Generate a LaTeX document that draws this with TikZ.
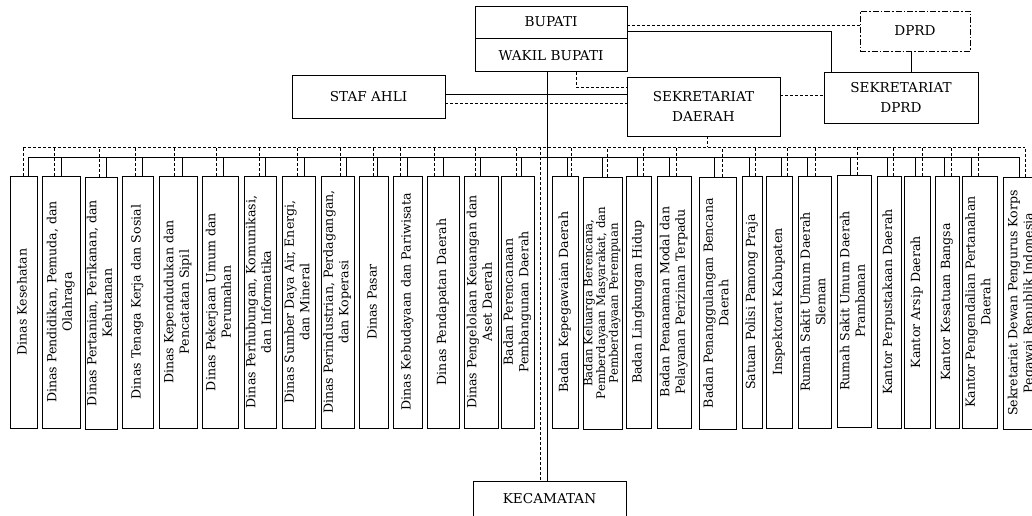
\documentclass[tikz,border=0pt]{standalone}
\usepackage{fontspec}
\setmainfont{DejaVu Serif}
\usepackage{graphicx}
\usetikzlibrary{positioning}
\newcommand{\vt}[1]{\rotatebox{90}{\begin{tabular}{@{}c@{}}#1\end{tabular}}}

\begin{document}
\begin{tikzpicture}[
  x=1pt, y=-1pt,
  box/.style={draw, line width=0.9pt, inner sep=1pt, align=center, font=\fontsize{13.6}{20}\selectfont},
  unit/.style={draw, line width=0.9pt, inner sep=0pt, minimum height=252pt, font=\fontsize{12.6}{15.5}\selectfont},
  dsh/.style={dash pattern=on 3pt off 2pt},
  dd/.style={line width=0.8pt, dash pattern=on 6pt off 2pt on 1.5pt off 2pt}
  ]
  \useasboundingbox (0,0) rectangle (1032,515);
  % pimpinan
  \node[box, minimum width=152pt, minimum height=32pt] (bupati) at (551,22) {BUPATI};
  \node[box, minimum width=152pt, minimum height=33pt, below=0pt of bupati] (wakil) {WAKIL BUPATI};
  \node[box, minimum width=153pt, minimum height=43pt] (staf) at (368.5,96.5) {STAF AHLI};
  \node[box, minimum width=153pt, minimum height=59pt] (sekda) at (703.5,106.5) {SEKRETARIAT\\DAERAH};
  \node[box, dd, minimum width=110pt, minimum height=40pt] (dprd) at (915,31) {DPRD};
  \node[box, minimum width=154pt, minimum height=51pt] (setdprd) at (901,97.5) {SEKRETARIAT\\DPRD};
  \node[box, minimum width=153pt, minimum height=36pt] (kec) at (549.5,499) {KECAMATAN};

  \draw ([yshift=2.5pt]staf.east) -- ([yshift=2.5pt]staf.east -| sekda.west);
  \draw[dsh] ([yshift=-6.5pt]staf.east) -- ([yshift=-6.5pt]staf.east -| sekda.west);
  \draw[dsh] ([xshift=25pt]wakil.south) |- ([yshift=19.5pt]sekda.west);
  \draw[dsh] ([yshift=-3pt]bupati.east) -- ([yshift=-3pt]bupati.east -| dprd.west);
  \draw ([yshift=-9pt]bupati.east) -| ([xshift=-70pt]setdprd.north);
  \draw ([xshift=-4pt]dprd.south) -- ([xshift=-4pt]dprd.south |- setdprd.north);
  \draw[dsh] ([yshift=11.5pt]sekda.east) -- ([yshift=11.5pt]sekda.east -| setdprd.west);

  % garis komando
  \coordinate (sL) at (28,157);  \coordinate (sR) at (1019,157);
  \coordinate (dL) at (23,147);  \coordinate (dR) at (1025,147);
  \draw (sL) -- (sR);
  \draw[dsh] (dL) -- (dR);
  \draw[dsh] ([xshift=3.5pt]sekda.south) -- ([xshift=3.5pt]sekda.south |- dL);
  \draw ([xshift=-4pt]wakil.south) -- ([xshift=-4pt]wakil.south |- kec.north);
  \draw[dsh] ([xshift=-9.5pt]kec.north |- dL) -- ([xshift=-9.5pt]kec.north);

  % dinas
  \node[unit, minimum width=27pt] (u1) at (23.5,302) {\vt{Dinas Kesehatan}};
  \node[unit, minimum width=38pt] (u2) at (61,302) {\vt{Dinas Pendidikan, Pemuda, dan\\Olahraga}};
  \node[unit, minimum width=32pt] (u3) at (101,303) {\vt{Dinas Pertanian, Perikanan, dan\\Kehutanan}};
  \node[unit, minimum width=31pt] (u4) at (137.5,302) {\vt{Dinas Tenaga Kerja dan Sosial}};
  \node[unit, minimum width=38pt] (u5) at (178,302) {\vt{Dinas Kependudukan dan\\Pencatatan Sipil}};
  \node[unit, minimum width=36pt] (u6) at (220,302) {\vt{Dinas Pekerjaan Umum dan\\Perumahan}};
  \node[unit, minimum width=32pt] (u7) at (260,302) {\vt{Dinas Perhubungan, Komunikasi,\\dan Informatika}};
  \node[unit, minimum width=33pt] (u8) at (298.5,302) {\vt{Dinas Sumber Daya Air, Energi,\\dan Mineral}};
  \node[unit, minimum width=33pt] (u9) at (337.5,302) {\vt{Dinas Perindustrian, Perdagangan,\\dan Koperasi}};
  \node[unit, minimum width=29pt] (u10) at (373.5,302) {\vt{Dinas Pasar}};
  \node[unit, minimum width=29pt] (u11) at (407.5,302) {\vt{Dinas Kebudayaan dan Pariwisata}};
  \node[unit, minimum width=32pt] (u12) at (443,302) {\vt{Dinas Pendapatan Daerah}};
  \node[unit, minimum width=34pt] (u13) at (481,302) {\vt{Dinas Pengelolaan Keuangan dan\\Aset Daerah}};
  \node[unit, minimum width=33pt] (u14) at (517.5,302) {\vt{Badan Perencanaan\\Pembangunan Daerah}};
  % badan, kantor
  \node[unit, minimum width=26pt] (u15) at (565,302) {\vt{Badan Kepegawaian Daerah}};
  \node[unit, minimum width=39pt, font=\fontsize{11.8}{12.5}\selectfont] (u16) at (602.5,303) {\vt{Badan Keluarga Berencana,\\Pemberdayaan Masyarakat, dan\\Pemberdayaan Perempuan}};
  \node[unit, minimum width=25pt] (u17) at (638.5,302) {\vt{Badan Lingkungan Hidup}};
  \node[unit, minimum width=34pt] (u18) at (674,302) {\vt{Badan Penanaman Modal dan\\Pelayanan Perizinan Terpadu}};
  \node[unit, minimum width=37pt] (u19) at (717.5,303) {\vt{Badan Penanggulangan Bencana\\Daerah}};
  \node[unit, minimum width=20pt] (u20) at (752,302) {\vt{Satuan Polisi Pamong Praja}};
  \node[unit, minimum width=26pt] (u21) at (779,302) {\vt{Inspektorat Kabupaten}};
  \node[unit, minimum width=33pt] (u22) at (814.5,302) {\vt{Rumah Sakit Umum Daerah\\Sleman}};
  \node[unit, minimum width=34pt] (u23) at (854,301) {\vt{Rumah Sakit Umum Daerah\\Prambanan}};
  \node[unit, minimum width=24pt] (u24) at (889,302) {\vt{Kantor Perpustakaan Daerah}};
  \node[unit, minimum width=26pt] (u25) at (917,302) {\vt{Kantor Arsip Daerah}};
  \node[unit, minimum width=24pt] (u26) at (947,302) {\vt{Kantor Kesatuan Bangsa}};
  \node[unit, minimum width=35pt] (u27) at (979.5,302) {\vt{Kantor Pengendalian Pertanahan\\Daerah}};
  \node[unit, minimum width=38pt] (u28) at (1022,303) {\vt{Sekretariat Dewan Pengurus Korps\\Pegawai Republik Indonesia}};

  \foreach \n/\s/\d in {u1/4.5/-0.5, u2/0/-7, u3/5/-2, u4/4.5/-2.5, u5/4/-4, u6/3/-4, u7/5/-1,
      u8/5.5/-1.5, u9/8.5/2.5, u10/3.5/-0.5, u11/-0.5/-7.5, u12/0/-9, u13/-1/-6, u14/3.5/-1.5,
      u15/2/6, u16/-0.5/4.5, u17/-1.5/4.5, u18/-5/2, u19/-3.5/4.5, u20/-3/3, u21/2/8,
      u22/-7.5/0.5, u23/-4/3, u24/-2/4, u25/-2/5, u26/-3/4, u27/-8.5/-1.5, u28/-3/3} {
    \draw ([xshift=\s pt]\n.north) -- ([xshift=\s pt]\n.north |- sL);
    \draw[dsh] ([xshift=\d pt]\n.north) -- ([xshift=\d pt]\n.north |- dL);
  }
\end{tikzpicture}
\end{document}
